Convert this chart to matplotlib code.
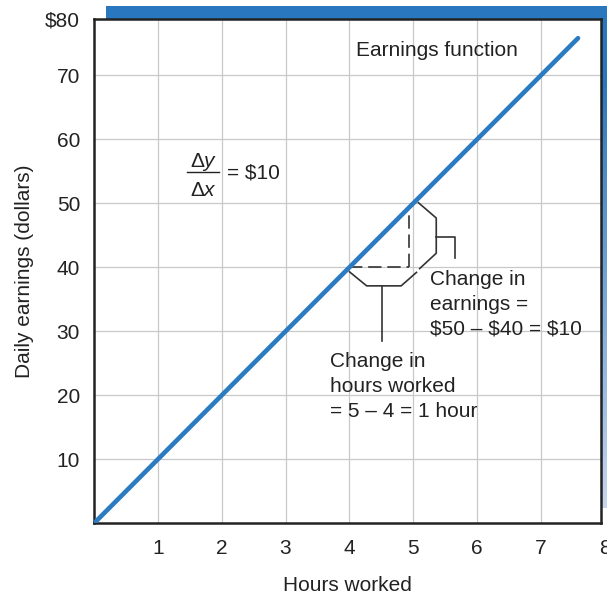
import numpy as np
import matplotlib
matplotlib.use('Agg')
import matplotlib.pyplot as plt

# Earnings function: $10 per hour worked
hours = [0, 7.58]
earnings = [0, 75.8]

x_ticks = [1, 2, 3, 4, 5, 6, 7]
y_ticks = [10, 20, 30, 40, 50, 60, 70]
y_tick_labels = ['10', '20', '30', '40', '50', '60', '70']

# Brace around the change in earnings (right of the line)
brace_y_x = [5.08, 5.36, 5.36, 5.10]
brace_y_y = [50.1, 47.7, 42.2, 39.8]
stub_y_x = [5.36, 5.65, 5.65]
stub_y_y = [44.8, 44.8, 41.5]

# Brace under the change in hours worked
brace_x_x = [4.00, 4.27, 4.81, 5.05]
brace_x_y = [39.3, 37.1, 37.1, 39.2]
stub_x_x = [4.51, 4.51]
stub_x_y = [37.1, 28.5]

# Dashed rise/run corner
run_x = [4.0, 4.94]
run_y = [40, 40]
rise_x = [4.94, 4.94]
rise_y = [40, 48.7]

plt.rcParams['font.family'] = ['Liberation Sans', 'DejaVu Sans']
plt.rcParams['mathtext.fontset'] = 'custom'
plt.rcParams['mathtext.rm'] = 'Liberation Sans'
plt.rcParams['mathtext.it'] = 'Liberation Sans:italic'

W, H = 607, 597
fig = plt.figure(figsize=(W / 100, H / 100), dpi=100)

# blue backdrop panel behind the plot (top bar + fading right edge)
bg = fig.add_axes([106 / W, (H - 508) / H, (W - 106) / W, (508 - 6) / H], zorder=0)
top = np.array([0.16, 0.47, 0.75])
bottom = np.array([0.78, 0.84, 0.93])
t = np.linspace(0, 1, 256)[:, None]
t = np.clip((t - 0.15) / 0.85, 0, 1)
grad = top[None, :] * (1 - t) + bottom[None, :] * t
bg.imshow(grad[:, None, :], aspect='auto', extent=[0, 1, 0, 1])
bg.axis('off')

ax = fig.add_axes([94 / W, (H - 523.3) / H, 507 / W, 504 / H], zorder=1)
ax.set_facecolor('white')
ax.set_xlim(0, 7.94)
ax.set_ylim(0, 78.75)

ax.set_xticks(x_ticks)
ax.set_yticks(y_ticks + [78.75])
ax.set_yticklabels(y_tick_labels + ['$80'])
ax.tick_params(axis='both', length=0, labelsize=15, colors='#222222')
ax.tick_params(axis='x', pad=11)
ax.tick_params(axis='y', pad=10)
ax.grid(True, color='#c8c8c8', linewidth=0.9)
ax.set_axisbelow(True)
for s in ax.spines.values():
    s.set_linewidth(1.8)
    s.set_color('#222222')

# tick "8" falls just past the right edge and is cut off
ax.text(8, -2.5, '8', fontsize=15, color='#222222', ha='center', va='top', clip_on=False)

ax.set_xlabel('Hours worked', fontsize=15, color='#222222', labelpad=13)
ax.set_ylabel('Daily earnings (dollars)', fontsize=15, color='#222222', labelpad=8)

ax.plot(hours, earnings, color='#2b7bc2', linewidth=3.3, solid_capstyle='round', zorder=5)

bk = dict(color='#333333', linewidth=1.2, zorder=4)
ax.plot(brace_y_x, brace_y_y, **bk)
ax.plot(stub_y_x, stub_y_y, **bk)
ax.plot(brace_x_x, brace_x_y, **bk)
ax.plot(stub_x_x, stub_x_y, **bk)
ax.plot(run_x, run_y, linestyle=(0, (8, 3.5)), **bk)
ax.plot(rise_x, rise_y, linestyle=(0, (8, 3.5)), **bk)

txt = dict(fontsize=15, color='#222222')
ax.text(4.11, 73.95, 'Earnings function', ha='left', va='center', **txt)
ax.text(1.72, 56.4, r'$\Delta\mathit{y}$', ha='center', va='center', **txt)
ax.text(1.71, 52.0, r'$\Delta\mathit{x}$', ha='center', va='center', **txt)
ax.plot([1.45, 1.95], [54.9, 54.9], color='#222222', linewidth=1.0)
ax.text(2.09, 54.7, '= $10', ha='left', va='center', **txt)

ax.text(5.26, 34.2, 'Change in\nearnings =\n$50 \u2013 $40 = $10', ha='left', va='center',
        linespacing=1.4, **txt)
ax.text(3.69, 21.3, 'Change in\nhours worked\n= 5 \u2013 4 = 1 hour', ha='left', va='center',
        linespacing=1.4, **txt)

fig.savefig('out.png', dpi=100)
